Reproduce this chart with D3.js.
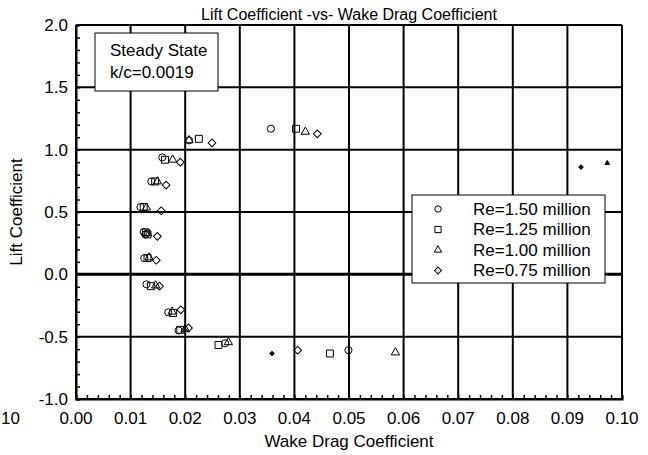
<!DOCTYPE html>
<html>
<head>
<meta charset="utf-8">
<script src="https://cdn.jsdelivr.net/npm/d3@7"></script>
<style>
  body { margin: 0; background: #fff; }
  text { font-family: "Liberation Sans", Arial, sans-serif; fill: #000; }
</style>
</head>
<body>
<svg id="chart"></svg>
<script>
// lift coefficient vs wake drag coefficient, four Reynolds numbers

const seriesNames = ["Re=1.50 million", "Re=1.25 million", "Re=1.00 million", "Re=0.75 million"];
const seriesShapes = ["circle", "square", "triangle", "diamond"];

// [wake drag, lift]
const re150 = [
  [0.0357, 1.168], [0.0207, 1.075], [0.0158, 0.938], [0.0138, 0.745], [0.0118, 0.54],
  [0.0124, 0.34], [0.0127, 0.32], [0.0125, 0.13], [0.0129, -0.08], [0.0169, -0.305],
  [0.0188, -0.45], [0.0273, -0.553], [0.0499, -0.608]
];
const re125 = [
  [0.0403, 1.168], [0.0225, 1.087], [0.0163, 0.919], [0.0145, 0.745], [0.0124, 0.54],
  [0.0128, 0.335], [0.0131, 0.32], [0.0131, 0.13], [0.0137, -0.095], [0.0178, -0.31],
  [0.0191, -0.445], [0.0261, -0.567], [0.0465, -0.635]
];
const re100 = [
  [0.0420, 1.143], [0.0207, 1.075], [0.0177, 0.919], [0.0149, 0.745], [0.0129, 0.535],
  [0.0131, 0.33], [0.0134, 0.135], [0.0146, -0.09], [0.0176, -0.30], [0.0200, -0.44],
  [0.0279, -0.545], [0.0585, -0.627]
];
const re075 = [
  [0.0442, 1.127], [0.0249, 1.054], [0.0191, 0.90], [0.0165, 0.716], [0.0156, 0.51],
  [0.0149, 0.305], [0.0147, 0.113], [0.0153, -0.095], [0.0192, -0.285], [0.0206, -0.43],
  [0.0406, -0.608]
];
// small filled markers: [series index, wake drag, lift]
const smallMarks = [[3, 0.0359, -0.635], [3, 0.0925, 0.86], [2, 0.0973, 0.892]];

const xTicks = [0, 0.01, 0.02, 0.03, 0.04, 0.05, 0.06, 0.07, 0.08, 0.09, 0.1];
const yTicks = [-1, -0.5, 0, 0.5, 1, 1.5, 2];

const width = 648, height = 455;
const margin = { top: 25, right: 26, bottom: 56, left: 76 };
const fontSize = 17;

const svg = d3.select("#chart").attr("width", width).attr("height", height);

const x = d3.scaleLinear([0, 0.1], [margin.left, width - margin.right]);
const y = d3.scaleLinear([-1, 2], [height - margin.bottom, margin.top]);

// plain hyphen for negatives, like the original
const fmt1 = d => d3.format(".1f")(d).replace("\u2212", "-");
const fmt2 = d => d3.format(".2f")(d).replace("\u2212", "-");

const shapeFor = {
  circle: d3.symbolCircle,
  square: d3.symbolSquare,
  triangle: d3.symbolTriangle,
  diamond: d3.symbolSquare
};
const sizeFor = { circle: 40, square: 48, triangle: 30, diamond: 30 };

function symbolPath(shape, scale = 1) {
  return d3.symbol(shapeFor[shape], sizeFor[shape] * scale)();
}

// grid
svg.append("g")
  .selectAll("line")
  .data(xTicks)
  .join("line")
  .attr("x1", d => x(d)).attr("x2", d => x(d))
  .attr("y1", y(2)).attr("y2", y(-1))
  .attr("stroke", "#000").attr("stroke-width", 2);

svg.append("g")
  .selectAll("line")
  .data(yTicks)
  .join("line")
  .attr("x1", x(0)).attr("x2", x(0.1))
  .attr("y1", d => y(d)).attr("y2", d => y(d))
  .attr("stroke", "#000")
  .attr("stroke-width", d => (d === 0 ? 3 : 2));

// axes with inward minor ticks
const yAxis = d3.axisRight(y)
  .tickValues(d3.range(-10, 21).map(d => d / 10))
  .tickSize(4).tickFormat("");
svg.append("g")
  .attr("transform", `translate(${x(0)},0)`)
  .call(yAxis)
  .call(g => g.select(".domain").attr("stroke-width", 2))
  .call(g => g.selectAll(".tick line").attr("stroke-width", 1.5));

const xAxis = d3.axisTop(x)
  .tickValues(d3.range(0, 51).map(d => d / 500))
  .tickSize(4).tickFormat("");
svg.append("g")
  .attr("transform", `translate(0,${y(-1)})`)
  .call(xAxis)
  .call(g => g.select(".domain").attr("stroke-width", 2))
  .call(g => g.selectAll(".tick line").attr("stroke-width", 1.5));

// tick labels
svg.append("g")
  .selectAll("text")
  .data(yTicks)
  .join("text")
  .attr("x", x(0) - 8)
  .attr("y", d => y(d))
  .attr("dy", "0.35em")
  .attr("text-anchor", "end")
  .style("font-size", fontSize + "px")
  .text(fmt1);

svg.append("g")
  .selectAll("text")
  .data(xTicks)
  .join("text")
  .attr("x", d => x(d))
  .attr("y", y(-1) + 25)
  .attr("text-anchor", "middle")
  .style("font-size", fontSize + "px")
  .text(fmt2);

// stray label at the far left
svg.append("text")
  .attr("x", 1).attr("y", y(-1) + 25)
  .style("font-size", fontSize + "px")
  .text("10");

// titles
svg.append("text")
  .attr("x", (x(0) + x(0.1)) / 2).attr("y", 20)
  .attr("text-anchor", "middle")
  .style("font-size", "16px")
  .text("Lift Coefficient -vs- Wake Drag Coefficient");

svg.append("text")
  .attr("x", (x(0) + x(0.1)) / 2).attr("y", height - 8)
  .attr("text-anchor", "middle")
  .style("font-size", fontSize + "px")
  .text("Wake Drag Coefficient");

svg.append("text")
  .attr("transform", `translate(22,${(y(2) + y(-1)) / 2}) rotate(-90)`)
  .attr("text-anchor", "middle")
  .style("font-size", fontSize + "px")
  .text("Lift Coefficient");

// points
const allSeries = [re150, re125, re100, re075];
allSeries.forEach((pts, i) => {
  const shape = seriesShapes[i];
  svg.append("g")
    .selectAll("path")
    .data(pts)
    .join("path")
    .attr("transform", d =>
      `translate(${x(d[0])},${y(d[1])})` + (shape === "diamond" ? " rotate(45)" : ""))
    .attr("d", symbolPath(shape))
    .attr("fill", "none")
    .attr("stroke", "#000")
    .attr("stroke-width", 1);
});

svg.append("g")
  .selectAll("path")
  .data(smallMarks)
  .join("path")
  .attr("transform", d => {
    const shape = seriesShapes[d[0]];
    return `translate(${x(d[1])},${y(d[2])})` + (shape === "diamond" ? " rotate(45)" : "");
  })
  .attr("d", d => symbolPath(seriesShapes[d[0]], 0.3))
  .attr("fill", "#000")
  .attr("stroke", "#000")
  .attr("stroke-width", 1);

// steady state note
const note = svg.append("g").attr("transform", "translate(95,33)");
note.append("rect")
  .attr("width", 123).attr("height", 58)
  .attr("fill", "#fff").attr("stroke", "#000").attr("stroke-width", 1);
note.selectAll("text")
  .data(["Steady State", "k/c=0.0019"])
  .join("text")
  .attr("x", 15)
  .attr("y", (d, i) => 23 + i * 22)
  .style("font-size", fontSize + "px")
  .text(d => d);

// legend
const legend = svg.append("g").attr("transform", "translate(412,195)");
legend.append("rect")
  .attr("width", 193).attr("height", 88)
  .attr("fill", "#fff").attr("stroke", "#000").attr("stroke-width", 1);
const rows = legend.selectAll("g")
  .data(seriesNames)
  .join("g")
  .attr("transform", (d, i) => `translate(0,${14 + i * 20.5})`);
rows.append("path")
  .attr("transform", (d, i) => "translate(26,0)" + (seriesShapes[i] === "diamond" ? " rotate(45)" : ""))
  .attr("d", (d, i) => symbolPath(seriesShapes[i], 0.8))
  .attr("fill", "none")
  .attr("stroke", "#000");
rows.append("text")
  .attr("x", 61)
  .attr("dy", "0.35em")
  .style("font-size", fontSize + "px")
  .text(d => d);
</script>
</body>
</html>
